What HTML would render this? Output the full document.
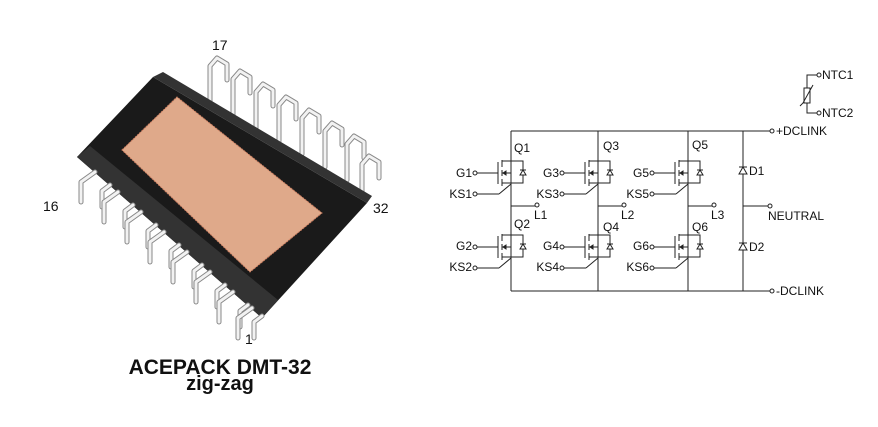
<!DOCTYPE html>
<html><head><meta charset="utf-8"><style>
html,body{margin:0;padding:0;background:#fff;width:878px;height:427px;overflow:hidden}
svg{display:block}
text{font-family:"Liberation Sans",Arial,sans-serif;fill:#111}
</style></head><body>
<svg width="878" height="427" viewBox="0 0 878 427" xmlns="http://www.w3.org/2000/svg">
<defs>
<g id="pinT" fill="none" stroke-linecap="round" stroke-linejoin="round">
 <path d="M0,0 L0,-36 L7,-44 L17,-38 L17,-22" stroke="#888" stroke-width="5"/>
 <path d="M0,0 L0,-36 L7,-44 L17,-38 L17,-22" stroke="#f2f2f2" stroke-width="3"/>
</g>
<g id="pinB" fill="none" stroke-linecap="round" stroke-linejoin="round">
 <path d="M0,0 L-14,10 L-14,30" stroke="#888" stroke-width="5"/>
 <path d="M0,0 L-14,10 L-14,30" stroke="#f2f2f2" stroke-width="3"/>
</g>
<g id="pinB2" fill="none" stroke-linecap="round" stroke-linejoin="round">
 <path d="M0,0 L-8,6 L-8,22" stroke="#888" stroke-width="5"/>
 <path d="M0,0 L-8,6 L-8,22" stroke="#f2f2f2" stroke-width="3"/>
</g>
<g id="fet" fill="none" stroke="#222" stroke-width="1">
 <line x1="-34" y1="0" x2="-13" y2="0"/>
 <circle cx="-36" cy="0" r="2" fill="#fff"/>
 <line x1="-13" y1="-11" x2="-13" y2="11"/>
 <line x1="-9" y1="-13" x2="-9" y2="-6"/>
 <line x1="-9" y1="-3" x2="-9" y2="3"/>
 <line x1="-9" y1="6" x2="-9" y2="13"/>
 <polyline points="-9,-12 0,-12"/>
 <polyline points="-9,10 0,10"/>
 <line x1="-9" y1="0" x2="0" y2="0"/>
 <polygon points="-8,0 -5,-2 -5,2" fill="#222"/>
 <polyline points="0,-12 12,-12 12,10 0,10"/>
 <polygon points="12,-3 9,2 15,2" fill="#fff"/>
 <line x1="9" y1="-3" x2="15" y2="-3"/>
 <line x1="-34" y1="21" x2="-12" y2="21"/>
 <circle cx="-36" cy="21" r="2" fill="#fff"/>
 <line x1="-12" y1="21" x2="0" y2="11"/>
</g>
</defs>

<use href="#pinT" x="210" y="102"/><use href="#pinT" x="233" y="115"/>
<use href="#pinT" x="256" y="128"/><use href="#pinT" x="279" y="141"/>
<use href="#pinT" x="302" y="154"/><use href="#pinT" x="325" y="167"/>
<use href="#pinT" x="347" y="180"/><use href="#pinT" x="362" y="200"/>
<polygon points="77,157 153,77 367,203 262,318" fill="#1a1a1a"/>
<polygon points="77,157 90,146 278,300 262,318" fill="#333"/>
<polygon points="153,77 163,72 372,196 367,203" fill="#333"/>
<polygon points="122,150 177,97 322,213 250,272" fill="#dfa98a" stroke="#cf8062" stroke-width="1" stroke-dasharray="2,1"/>
<use href="#pinB" x="95" y="172"/><use href="#pinB2" x="110" y="185"/>
<use href="#pinB" x="118" y="192"/><use href="#pinB2" x="133" y="205"/>
<use href="#pinB" x="141" y="212"/><use href="#pinB2" x="156" y="225"/>
<use href="#pinB" x="164" y="232"/><use href="#pinB2" x="179" y="245"/>
<use href="#pinB" x="187" y="252"/><use href="#pinB2" x="202" y="265"/>
<use href="#pinB" x="210" y="272"/><use href="#pinB2" x="225" y="285"/>
<use href="#pinB" x="233" y="292"/><use href="#pinB2" x="248" y="305"/>
<use href="#pinB" x="252" y="308"/><use href="#pinB2" x="262" y="316"/>
<text x="212" y="50" font-size="14">17</text>
<text x="43" y="211" font-size="14">16</text>
<text x="373" y="213" font-size="14">32</text>
<text x="245" y="344" font-size="14">1</text>
<text x="220" y="374" font-size="21" font-weight="bold" text-anchor="middle">ACEPACK DMT-32</text>
<text x="220" y="390" font-size="20" font-weight="bold" text-anchor="middle">zig-zag</text>

<g fill="none" stroke="#222" stroke-width="1">
 <line x1="511" y1="131" x2="770" y2="131"/>
 <line x1="511" y1="291" x2="770" y2="291"/>
 <line x1="511" y1="131" x2="511" y2="291"/>
 <line x1="598" y1="131" x2="598" y2="291"/>
 <line x1="688" y1="131" x2="688" y2="291"/>
 <line x1="743" y1="131" x2="743" y2="291"/>
 <line x1="511" y1="206" x2="535" y2="206"/>
 <line x1="598" y1="206" x2="622" y2="206"/>
 <line x1="688" y1="206" x2="712" y2="206"/>
 <line x1="743" y1="206" x2="768" y2="206"/>
 <circle cx="772" cy="131" r="2" fill="#fff"/>
 <circle cx="772" cy="291" r="2" fill="#fff"/>
 <circle cx="537" cy="205" r="2" fill="#fff"/>
 <circle cx="624" cy="205" r="2" fill="#fff"/>
 <circle cx="714" cy="205" r="2" fill="#fff"/>
 <circle cx="770" cy="206" r="2" fill="#fff"/>
 <polygon points="743,167 739,174 747,174" fill="#fff"/><line x1="739" y1="167" x2="747" y2="167"/>
 <polygon points="743,243 739,250 747,250" fill="#fff"/><line x1="739" y1="243" x2="747" y2="243"/>
 <polyline points="817,75 807,75 807,113 817,113"/>
 <rect x="804" y="88" width="6" height="15" fill="#fff"/>
 <polyline points="800,106 803,103 813,85"/>
 <circle cx="819" cy="75" r="2" fill="#fff"/>
 <circle cx="819" cy="113" r="2" fill="#fff"/>
</g>
<use href="#fet" x="511" y="173"/><use href="#fet" x="511" y="247"/>
<use href="#fet" x="598" y="173"/><use href="#fet" x="598" y="247"/>
<use href="#fet" x="688" y="173"/><use href="#fet" x="688" y="247"/>
<g font-size="12">
 <text x="514" y="152">Q1</text><text x="514" y="228">Q2</text>
 <text x="603" y="150">Q3</text><text x="603" y="231">Q4</text>
 <text x="692" y="149">Q5</text><text x="692" y="231">Q6</text>
 <text x="472" y="177" text-anchor="end">G1</text><text x="472" y="198" text-anchor="end">KS1</text>
 <text x="472" y="250" text-anchor="end">G2</text><text x="472" y="271" text-anchor="end">KS2</text>
 <text x="559" y="177" text-anchor="end">G3</text><text x="559" y="198" text-anchor="end">KS3</text>
 <text x="559" y="250" text-anchor="end">G4</text><text x="559" y="271" text-anchor="end">KS4</text>
 <text x="649" y="177" text-anchor="end">G5</text><text x="649" y="198" text-anchor="end">KS5</text>
 <text x="649" y="250" text-anchor="end">G6</text><text x="649" y="271" text-anchor="end">KS6</text>
 <text x="534" y="219">L1</text><text x="621" y="219">L2</text><text x="711" y="219">L3</text>
 <text x="749" y="175">D1</text><text x="749" y="251">D2</text>
 <text x="776" y="135">+DCLINK</text>
 <text x="768" y="220">NEUTRAL</text>
 <text x="776" y="295">-DCLINK</text>
 <text x="822" y="79">NTC1</text>
 <text x="822" y="117">NTC2</text>
</g>
</svg>
</body></html>
